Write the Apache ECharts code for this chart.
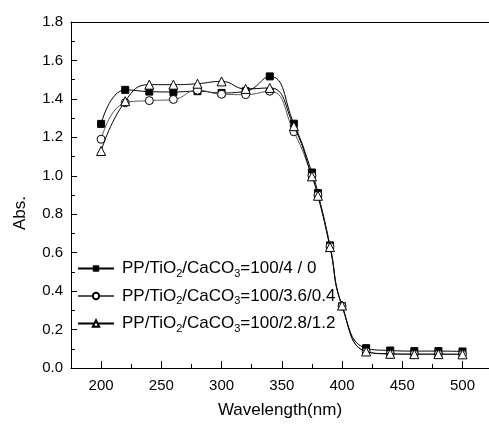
<!DOCTYPE html>
<html><head><meta charset="utf-8">
<script src="https://cdn.jsdelivr.net/npm/echarts@6/dist/echarts.min.js"></script>
<style>html,body{margin:0;padding:0;background:#fff}#c{width:489px;height:424px}</style>
</head><body><div id="c"></div>
<script>
var wavelengths = [200,220,240,260,280,300,320,340,360,375,380,390,400,420,440,460,480,500];
var absA = [1.27,1.447,1.438,1.436,1.44,1.431,1.44,1.517,1.271,1.017,0.91,0.638,0.322,0.103,0.091,0.088,0.088,0.086];
var absB = [1.19,1.38,1.391,1.397,1.445,1.424,1.422,1.44,1.229,1.0,0.9,0.632,0.322,0.085,0.073,0.072,0.072,0.071];
var absC = [1.129,1.388,1.474,1.474,1.479,1.491,1.452,1.457,1.258,0.997,0.896,0.629,0.325,0.086,0.074,0.072,0.072,0.071];
var names = ['PP/TiO2/CaCO3=100/4 / 0','PP/TiO2/CaCO3=100/3.6/0.4','PP/TiO2/CaCO3=100/2.8/1.2'];
var legendRich = ['PP/TiO{s|2}/CaCO{s|3}=100/4 / 0','PP/TiO{s|2}/CaCO{s|3}=100/3.6/0.4','PP/TiO{s|2}/CaCO{s|3}=100/2.8/1.2'];
var xMajor = [200,250,300,350,400,450,500];
var xMinor = [225,275,325,375,425,475];

function pairs(v){return wavelengths.map(function(w,i){return [w,v[i]];});}
var font = 'Liberation Sans, Arial, sans-serif';
var chart = echarts.init(document.getElementById('c'));
chart.setOption({
  animation:false,
  grid:{left:71,right:0,top:22,bottom:54},
  legend:{
    orient:'vertical', left:72, top:255, itemWidth:36, itemHeight:8, itemGap:8.5,
    data:names,
    formatter:function(n){return legendRich[names.indexOf(n)];},
    textStyle:{fontFamily:font,fontSize:17,color:'#000',padding:[0,0,0,3],
      rich:{s:{fontFamily:font,fontSize:11,color:'#000',padding:[10,0,0,0]}}}
  },
  xAxis:[{
    type:'value', min:175, max:522, position:'bottom',
    name:'Wavelength(nm)', nameLocation:'middle', nameGap:34,
    nameTextStyle:{fontFamily:font,fontSize:17,color:'#000'},
    axisLine:{lineStyle:{color:'#000',width:1}},
    axisTick:{inside:true,length:7,customValues:xMajor,lineStyle:{color:'#000'}},
    axisLabel:{customValues:xMajor,fontFamily:font,fontSize:15,color:'#000',margin:10},
    splitLine:{show:false}
  },{
    type:'value', min:175, max:522, position:'bottom', gridIndex:0,
    axisLine:{show:false},
    axisTick:{inside:true,length:4,customValues:xMinor,lineStyle:{color:'#000'}},
    axisLabel:{show:false}, splitLine:{show:false}
  },{
    type:'value', min:175, max:522, position:'top',
    axisLine:{lineStyle:{color:'#000',width:1}},
    axisTick:{show:false}, axisLabel:{show:false}, splitLine:{show:false}
  }],
  yAxis:{
    type:'value', min:0, max:1.8, interval:0.2,
    axisLine:{show:true,lineStyle:{color:'#000',width:1}},
    axisTick:{inside:true,length:6,lineStyle:{color:'#000'}},
    minorTick:{show:true,splitNumber:2,length:4,lineStyle:{color:'#000'}},
    axisLabel:{fontFamily:font,fontSize:15,color:'#000',margin:8,formatter:function(v){return v.toFixed(1);}},
    splitLine:{show:false}
  },
  graphic:[{type:'text',rotation:Math.PI/2,x:20,y:213,
    style:{text:'Abs.',font:'17px '+font,fill:'#000',textAlign:'center',textVerticalAlign:'middle'}}],
  series:[{
    name:names[0], type:'line', data:pairs(absA), smooth:0.5,
    symbol:'rect', symbolSize:7, z:3,
    lineStyle:{color:'#000',width:1}, itemStyle:{color:'#000',borderColor:'#000'}
  },{
    name:names[1], type:'line', data:pairs(absB), smooth:0.5,
    symbol:'circle', symbolSize:8, z:4,
    lineStyle:{color:'#555',width:1}, itemStyle:{color:'#fff',borderColor:'#000',borderWidth:1}
  },{
    name:names[2], type:'line', data:pairs(absC), smooth:0.5,
    symbol:'triangle', symbolSize:9, z:5,
    lineStyle:{color:'#000',width:1}, itemStyle:{color:'#fff',borderColor:'#000',borderWidth:1}
  }]
});
</script></body></html>
